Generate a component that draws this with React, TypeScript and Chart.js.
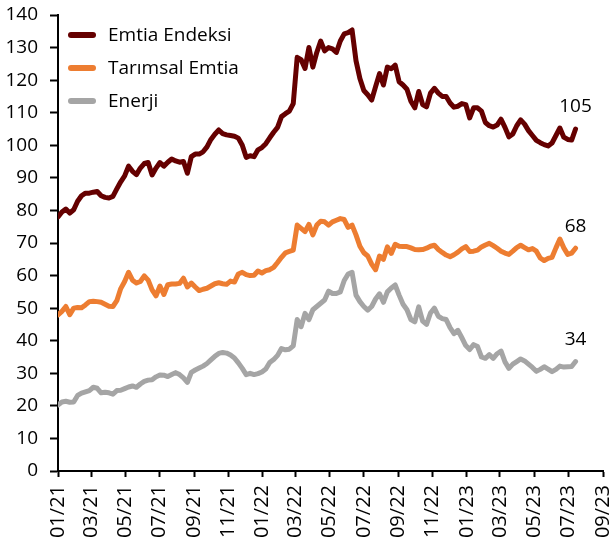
import React, { useEffect, useRef } from "react";
import { Chart, registerables } from "chart.js";

Chart.register(...registerables);

const startDate = "2021-01-01";
const stepDays = 7;

const seriesNames = ["Emtia Endeksi", "Tarımsal Emtia", "Enerji"];
const seriesColors = ["#650000", "#ED7D31", "#A5A5A5"];

const emtia = [
  78, 79.5, 80.4, 79.2, 80.2, 82.8, 84.5, 85.3, 85.3, 85.6,
  85.8, 84.5, 84, 83.8, 84.3, 86.6, 88.8, 90.6, 93.6, 92,
  91, 93, 94.4, 94.7, 90.9, 93, 94.7, 93.6, 94.8, 95.8,
  95.2, 94.8, 95, 91.4, 96.5, 97.3, 97.3, 98, 99.5, 101.8,
  103.4, 104.7, 103.6, 103.2, 103, 102.8, 102.2, 100, 96.3, 96.8,
  96.5, 98.6, 99.3, 100.5, 102.3, 104, 105.5, 108.8, 109.7, 110.5,
  112.8, 127, 126.3, 123.6, 130, 124, 128.5, 132, 129, 130,
  129.6, 128.5, 132, 134.2, 134.6, 135.4, 126, 120.5, 116.8, 115.5,
  113.9, 118, 122, 118.5, 124, 123.5, 124.6, 119.5, 118.5, 117.2,
  113.5, 111.5, 116.5, 112.5, 111.8, 116, 117.5, 116, 115, 115,
  113, 111.7, 112, 112.8, 112.5, 108.4, 111.5, 111.5, 110.5, 107,
  106, 105.6, 106.2, 108, 105.5, 102.6, 103.5, 106, 107.8, 106.5,
  104.5, 103, 101.5, 100.8, 100.2, 99.8, 100.7, 103, 105.3, 102.5,
  101.8, 101.6, 105,
];

const tarimsal = [
  47.9, 49, 50.5, 48, 50, 50.2, 50.1, 51, 52, 52.1,
  52, 51.8, 51.2, 50.6, 50.5, 52.3, 56, 58.2, 61, 58.6,
  57.7, 58.2, 59.9, 58.6, 55.6, 53.8, 56.8, 54.2, 57.2, 57.4,
  57.4, 57.6, 59.2, 56.5, 57.7, 56.5, 55.4, 55.8, 56.1, 56.8,
  57.5, 57.8, 57.5, 57.3, 58.3, 58, 60.5, 61, 60.3, 60,
  60.1, 61.4, 60.8, 61.5, 61.8, 62.5, 64, 65.6, 67, 67.4,
  67.8, 75.5, 74.5, 73.5, 75.7, 72.5, 75.5, 76.7, 76.5, 75.5,
  76.5, 77, 77.5, 77.2, 74.8, 75.5, 72.5, 69, 67, 66,
  63.5, 61.8, 66, 65, 68.8, 66.8, 69.6, 69, 68.9, 68.9,
  68.5, 68, 67.9, 68, 68.4, 69, 69.3, 68, 67.1, 66.3,
  65.8, 66.4, 67.2, 68.2, 68.9, 67.4, 67.5, 67.8, 68.8, 69.4,
  69.9, 69.2, 68.4, 67.5, 66.9, 66.5, 67.5, 68.6, 69.3, 68.6,
  67.9, 68.3, 67.5, 65.4, 64.6, 65.3, 65.6, 68.5, 71.2, 68.5,
  66.5, 66.9, 68.4,
];

const enerji = [
  20.3, 21.2, 21.4, 21.1, 21.2, 23.2, 23.9, 24.3, 24.7, 25.7,
  25.4, 24, 24.2, 24, 23.6, 24.7, 24.8, 25.3, 25.8, 26.1,
  25.7, 26.7, 27.5, 27.9, 28, 28.9, 29.5, 29.4, 29, 29.6,
  30.2, 29.6, 28.6, 27.2, 30.3, 31, 31.6, 32.2, 33, 34.1,
  35.2, 36.1, 36.4, 36.2, 35.6, 34.7, 33.2, 31.5, 29.6, 30,
  29.6, 29.9, 30.4, 31.3, 33.3, 34.2, 35.5, 37.6, 37.2, 37.4,
  38.4, 46.5, 44.3, 48.4, 46.5, 49.5, 50.5, 51.5, 52.5, 55.2,
  54.5, 54.5, 55, 58.5, 60.5, 61, 54, 52, 50.5, 49.4,
  50.5, 52.8, 54.4, 51.8, 55, 56.2, 57.1, 54, 51.2, 49.5,
  46.5, 45.8, 50.4, 46, 45, 48.5, 50, 47.5, 46.8, 46.5,
  44, 42.2, 43.2, 40.9, 38.5, 37.3, 38.8, 38.2, 35, 34.6,
  35.7, 34.6, 36, 36.8, 33.5, 31.5, 32.8, 33.6, 34.4, 33.8,
  32.8, 31.8, 30.6, 31.2, 32, 31.3, 30.5, 31.2, 32.2, 31.9,
  32, 32.1, 33.6,
];

const xTickLabels = [
  "01/21", "03/21", "05/21", "07/21", "09/21", "11/21",
  "01/22", "03/22", "05/22", "07/22", "09/22", "11/22",
  "01/23", "03/23", "05/23", "07/23", "09/23",
];

const yMin = 0;
const yMax = 140;
const yStep = 10;

const FONT = "'Open Sans', 'Liberation Sans', sans-serif";
const FONT_SIZE = 19;

const startMs = Date.parse(startDate + "T00:00:00Z");
function labelToDay(lbl: string): number {
  const [m, y] = lbl.split("/");
  return (Date.UTC(2000 + Number(y), Number(m) - 1, 1) - startMs) / 86400000;
}

const allSeries = [emtia, tarimsal, enerji];

const legendPlugin = {
  id: "customLegend",
  afterDraw(chart: any) {
    const ctx = chart.ctx;
    const area = chart.chartArea;
    ctx.save();
    chart.data.datasets.forEach((ds: any, i: number) => {
      const cy = area.top + 20 + i * 33;
      ctx.strokeStyle = ds.borderColor;
      ctx.lineWidth = 6;
      ctx.lineCap = "round";
      ctx.beginPath();
      ctx.moveTo(area.left + 13, cy);
      ctx.lineTo(area.left + 35, cy);
      ctx.stroke();
      ctx.fillStyle = "#000";
      ctx.font = `${FONT_SIZE}px ${FONT}`;
      ctx.textAlign = "left";
      ctx.textBaseline = "middle";
      ctx.fillText(ds.label, area.left + 50, cy + 1);
    });
    ctx.restore();
  },
};

const endLabelPlugin = {
  id: "endLabels",
  afterDatasetsDraw(chart: any) {
    const ctx = chart.ctx;
    ctx.save();
    ctx.font = `${FONT_SIZE}px ${FONT}`;
    ctx.fillStyle = "#000";
    ctx.textAlign = "center";
    ctx.textBaseline = "middle";
    chart.data.datasets.forEach((ds: any, i: number) => {
      const meta = chart.getDatasetMeta(i);
      const pts = meta.data;
      const last = pts[pts.length - 1];
      const val = ds.data[ds.data.length - 1].y;
      ctx.fillText(String(Math.round(val)), last.x, last.y - 22);
    });
    ctx.restore();
  },
};

export default function App() {
  const canvasRef = useRef<HTMLCanvasElement | null>(null);

  useEffect(() => {
    if (!canvasRef.current) return;
    const datasets = allSeries.map((vals, i) => ({
      label: seriesNames[i],
      data: vals.map((v, k) => ({ x: k * stepDays, y: v })),
      borderColor: seriesColors[i],
      backgroundColor: seriesColors[i],
      borderWidth: 5,
      pointRadius: 0,
      tension: 0,
      borderJoinStyle: "round" as const,
      borderCapStyle: "round" as const,
    }));

    const chart = new Chart(canvasRef.current, {
      type: "line",
      data: { datasets },
      options: {
        animation: false,
        responsive: true,
        maintainAspectRatio: false,
        layout: { padding: { left: 0, top: 15, right: 10, bottom: 0 } },
        plugins: {
          legend: { display: false },
          tooltip: { enabled: false },
        },
        scales: {
          x: {
            type: "linear",
            min: 0,
            max: labelToDay(xTickLabels[xTickLabels.length - 1]),
            afterBuildTicks: (scale: any) => {
              scale.ticks = xTickLabels.map((l) => ({ value: labelToDay(l) }));
            },
            afterFit: (scale: any) => {
              scale.height = 80;
              scale.paddingLeft = 0;
              scale.paddingRight = 0;
            },
            ticks: {
              autoSkip: false,
              maxRotation: 90,
              minRotation: 90,
              padding: 8,
              color: "#000",
              font: { family: FONT, size: 20 },
              callback: (v: any) => {
                const idx = xTickLabels.findIndex((l) => Math.abs(labelToDay(l) - Number(v)) < 0.5);
                return idx >= 0 ? xTickLabels[idx] : "";
              },
            },
            grid: {
              display: true,
              drawOnChartArea: false,
              drawTicks: true,
              tickLength: 6,
              tickColor: "#000",
              tickWidth: 2,
            },
            border: { display: true, color: "#000", width: 2 },
          },
          y: {
            min: yMin,
            max: yMax,
            afterFit: (scale: any) => {
              scale.width = 58;
              scale.paddingTop = 0;
              scale.paddingBottom = 0;
            },
            ticks: {
              stepSize: yStep,
              padding: 12,
              color: "#000",
              font: { family: FONT, size: FONT_SIZE },
            },
            grid: {
              display: true,
              drawOnChartArea: false,
              drawTicks: true,
              tickLength: 8,
              tickColor: "#000",
              tickWidth: 2,
            },
            border: { display: true, color: "#000", width: 2 },
          },
        },
      },
      plugins: [legendPlugin, endLabelPlugin],
    });
    return () => chart.destroy();
  }, []);

  return (
    <div style={{ position: "absolute", left: 0, top: 0, width: 613, height: 551, background: "#fff" }}>
      <canvas ref={canvasRef} />
    </div>
  );
}
